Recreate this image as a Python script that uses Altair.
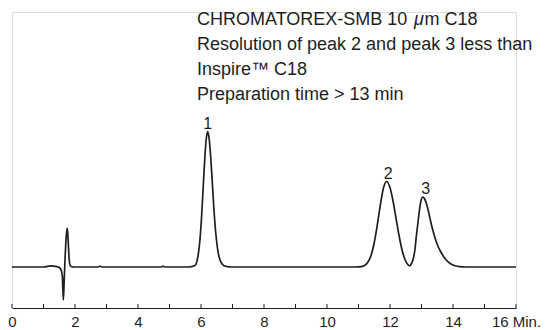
import altair as alt
import pandas as pd

# ---- chromatogram trace (time in min, detector signal in arbitrary units) ----
time_min = [0.0, 1.0, 1.15, 1.26, 1.38, 1.45, 1.52, 1.57, 1.60, 1.63, 1.655, 1.68, 1.72, 1.755, 1.78, 1.81, 1.84, 1.88, 1.95,
            2.74, 2.79, 2.84, 4.75, 4.8, 4.85, 5.6,
            5.81, 5.86, 5.91, 5.96, 6.01, 6.06, 6.11, 6.16, 6.21, 6.26, 6.31, 6.36, 6.41, 6.46, 6.51, 6.56, 6.61, 6.66, 6.72, 6.82, 6.95,
            10.9, 11.09, 11.19, 11.29, 11.39, 11.49, 11.59, 11.69, 11.79, 11.89, 11.99, 12.09, 12.19, 12.29, 12.39, 12.49, 12.57, 12.63,
            12.66, 12.70, 12.74, 12.79, 12.84, 12.89, 12.94, 12.99, 13.04, 13.10, 13.17, 13.24, 13.31, 13.38, 13.45, 13.52, 13.59,
            13.70, 13.80, 13.90, 14.00, 14.10, 14.22, 14.40, 16.0]
signal = [0, 0, 0.8, 1.2, 0.6, 0, -1, -4, -10, -33, -15, 5, 30, 39, 28, 10, 2, 0.5, 0,
          0, 1.0, 0, 0, 1.0, 0, 0,
          1.5, 4.5, 12, 25, 46, 74, 103, 126, 135.3, 128, 109, 84, 58, 37, 22, 12, 6.5, 3.5, 1.5, 0.5, 0,
          0, 0.4, 1.5, 4.4, 10.8, 22.8, 40.6, 61.4, 78.7, 85.5, 80.5, 67, 49, 31, 16, 6.5, 2.2, 1,
          2.5, 4.5, 8.5, 17, 32, 45, 58, 67, 70, 68, 62, 53, 43, 34.5, 27, 21, 16.5,
          10.5, 6.5, 3.8, 2, 1, 0.3, 0, 0]

peak_ids = ["1", "2", "3"]
peak_label_time = [6.21, 11.94, 13.13]
peak_height = [135.3, 85.5, 70]

minor_ticks = list(range(0, 17))
labelled_ticks = list(range(0, 17, 2))

title_parts = ["CHROMATOREX-SMB 10", "\u03bc", "m C18"]
note_lines = [
    "Resolution of peak 2 and peak 3 less than",
    "Inspire\u2122 C18",
    "Preparation time > 13 min",
]

FONT = "Liberation Sans"
INK = "#1e1e1e"
W, H = 504, 296
FS = 18
LH = 25.3
X0 = 185      # left edge of the note block inside the plot
Y0 = 12.5     # baseline of the first note line inside the plot

trace = pd.DataFrame({"t": time_min, "s": signal})
peaks = pd.DataFrame({"id": peak_ids, "t": peak_label_time, "h": peak_height})
ticks = pd.DataFrame({"t": minor_ticks})
one = pd.DataFrame({"k": [0]})

xscale = alt.Scale(domain=[0, 16], nice=False, zero=False)
yscale = alt.Scale(domain=[-41, 255], nice=False, zero=False)

line = alt.Chart(trace).mark_line(color=INK, strokeWidth=1.7, interpolate="monotone").encode(
    x=alt.X("t:Q", scale=xscale, axis=alt.Axis(
        values=labelled_ticks, title=None, grid=False, ticks=False, tickSize=0,
        labelFont=FONT, labelFontSize=15, labelColor=INK, labelPadding=6,
        labelOverlap=False, labelFlush=False, labelBound=False,
        domainColor=INK, domainWidth=1,
        labelExpr="datum.value == 16 ? '16 Min.' : datum.label")),
    y=alt.Y("s:Q", scale=yscale, axis=None),
)

tick_marks = alt.Chart(ticks).mark_rule(color=INK, strokeWidth=1).encode(
    x=alt.X("t:Q", scale=xscale),
    y=alt.value(H),
    y2=alt.value(H - 4),
)

peak_text = alt.Chart(peaks).mark_text(font=FONT, fontSize=16, color=INK, baseline="bottom", align="center").encode(
    x=alt.X("t:Q", scale=xscale),
    y=alt.Y("h:Q", scale=yscale),
    text="id:N",
)

# first note line: "CHROMATOREX-SMB 10 " + italic mu + "m C18" (Arial-metric widths in em)
w_head = 12.057 * FS
w_mu = 0.576 * FS
base = alt.Chart(one)
t1 = base.mark_text(font=FONT, fontSize=FS, color=INK, align="left", baseline="alphabetic").encode(
    x=alt.value(X0), y=alt.value(Y0), text=alt.value(title_parts[0]))
t2 = base.mark_text(font=FONT, fontSize=FS, fontStyle="italic", color=INK, align="left", baseline="alphabetic").encode(
    x=alt.value(X0 + w_head), y=alt.value(Y0), text=alt.value(title_parts[1]))
t3 = base.mark_text(font=FONT, fontSize=FS, color=INK, align="left", baseline="alphabetic").encode(
    x=alt.value(X0 + w_head + w_mu), y=alt.value(Y0), text=alt.value(title_parts[2]))

note_text = alt.Chart(pd.DataFrame({"txt": ["\n".join(note_lines)]})).mark_text(
    font=FONT, fontSize=FS, color=INK, align="left", baseline="alphabetic",
    lineBreak="\n", lineHeight=LH).encode(
    x=alt.value(X0),
    y=alt.value(Y0 + LH),
    text="txt:N",
)

chart = alt.layer(line, tick_marks, peak_text, t1, t2, t3, note_text).properties(
    width=W, height=H, autosize="none",
    padding={"left": 4, "top": 4, "right": 25, "bottom": 22},
).configure_view(stroke=None).configure(background="white")

chart.save("out.html", embed_options={"renderer": "svg", "actions": False})
